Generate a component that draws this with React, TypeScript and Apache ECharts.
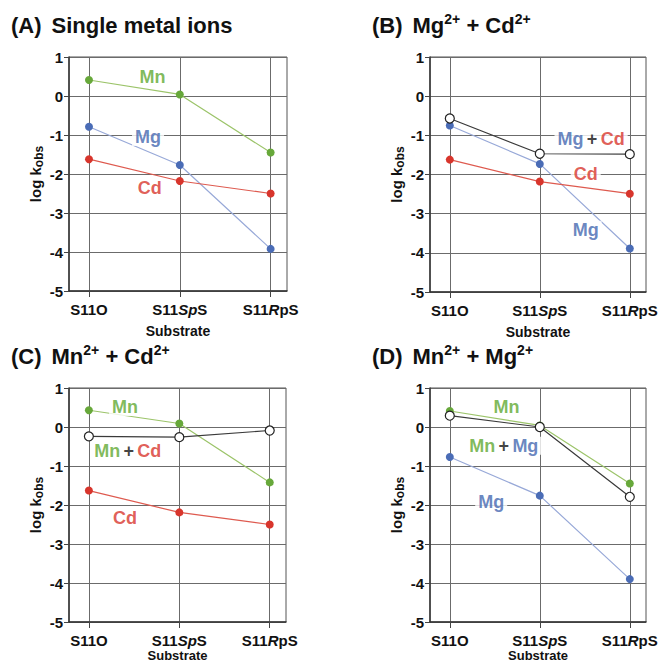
import React, { useEffect, useRef } from "react";
import * as echarts from "echarts";

const categories = ["S11O", "S11SpS", "S11RpS"];
const categoryRich = ["S11O", "S11{i|Sp}S", "S11{i|R}pS"];
const yMin = -5;
const yMax = 1;

// Panel A: single metal ions
const A_Mn = [0.41, 0.04, -1.45];
const A_Mg = [-0.79, -1.77, -3.92];
const A_Cd = [-1.62, -2.18, -2.5];
// Panel B: Mg2+ + Cd2+
const B_MgCd = [-0.57, -1.47, -1.48];
const B_Mg = [-0.75, -1.73, -3.89];
const B_Cd = [-1.62, -2.18, -2.49];
// Panel C: Mn2+ + Cd2+
const C_Mn = [0.43, 0.09, -1.42];
const C_MnCd = [-0.24, -0.26, -0.09];
const C_Cd = [-1.63, -2.19, -2.5];
// Panel D: Mn2+ + Mg2+
const D_Mn = [0.41, 0.04, -1.45];
const D_MnMg = [0.29, 0.0, -1.79];
const D_Mg = [-0.77, -1.76, -3.9];

// In-plot annotation labels: [x, y, rich text]
const A_labels: [number, number, string][] = [
  [0.7, 0.49, "{mn|Mn}"],
  [0.65, -1.05, "{mg|Mg}"],
  [0.67, -2.36, "{cd|Cd}"],
];
const B_labels: [number, number, string][] = [
  [1.57, -1.09, "{mg|Mg} {k|+} {cd|Cd}"],
  [1.51, -1.98, "{cd|Cd}"],
  [1.51, -3.41, "{mg|Mg}"],
];
const C_labels: [number, number, string][] = [
  [0.4, 0.51, "{mn|Mn}"],
  [0.43, -0.62, "{mn|Mn} {k|+} {cd|Cd}"],
  [0.4, -2.33, "{cd|Cd}"],
];
const D_labels: [number, number, string][] = [
  [0.63, 0.51, "{mn|Mn}"],
  [0.6, -0.48, "{mn|Mn} {k|+} {mg|Mg}"],
  [0.46, -1.93, "{mg|Mg}"],
];

const panelTitles = [
  "{p|(A)}  {t|Single metal ions}",
  "{p|(B)}  {t|Mg}{s|2+}{t| + Cd}{s|2+}",
  "{p|(C)}  {t|Mn}{s|2+}{t| + Cd}{s|2+}",
  "{p|(D)}  {t|Mn}{s|2+}{t| + Mg}{s|2+}",
];

const FONT = "'Liberation Sans', Arial, Helvetica, sans-serif";
const colors = {
  mnLine: "#9cc46a",
  mnDot: "#67a83a",
  mgLine: "#98a9d8",
  mgDot: "#4a6cb6",
  cdLine: "#de5a4f",
  cdDot: "#d8352c",
  mix: "#3a3a3a",
};

const grids = [
  { left: 69, top: 57, width: 218, height: 234 },
  { left: 430, top: 57, width: 216, height: 235 },
  { left: 69, top: 388, width: 217, height: 234 },
  { left: 430, top: 388, width: 216, height: 234 },
];
const titlePos = [
  { left: 11, top: 12 },
  { left: 372, top: 12 },
  { left: 11, top: 343 },
  { left: 372, top: 343 },
];

const toPts = (arr: number[]) => arr.map((v, i) => [i, v]);

function lineSeries(idx: number, data: number[], line: string, dot: string, open = false) {
  return {
    type: "line",
    xAxisIndex: idx,
    yAxisIndex: idx,
    data: toPts(data),
    symbol: "circle",
    symbolSize: open ? 9 : 8,
    lineStyle: { color: line, width: 1.2 },
    itemStyle: open
      ? { color: "#ffffff", borderColor: "#222", borderWidth: 1.2 }
      : { color: dot, borderWidth: 0 },
    z: open ? 4 : 3,
  };
}

const labelRich = {
  mn: { color: "#5fa832", fontSize: 18, fontWeight: "bold", fontFamily: FONT },
  mg: { color: "#4467b0", fontSize: 18, fontWeight: "bold", fontFamily: FONT },
  cd: { color: "#d8352c", fontSize: 18, fontWeight: "bold", fontFamily: FONT },
  k: { color: "#111", fontSize: 18, fontWeight: "bold", fontFamily: FONT },
};

function labelSeries(idx: number, labels: [number, number, string][]) {
  return {
    type: "scatter",
    xAxisIndex: idx,
    yAxisIndex: idx,
    symbolSize: 0,
    silent: true,
    z: 5,
    data: labels.map((l) => ({ value: [l[0], l[1]], text: l[2] })),
    label: {
      show: true,
      position: "inside",
      formatter: (p: any) => p.data.text,
      backgroundColor: "#ffffff",
      padding: [0, 3],
      rich: labelRich,
    },
  };
}

export default function App() {
  const ref = useRef<HTMLDivElement>(null);
  useEffect(() => {
    document.body.style.margin = "0";
    const chart = echarts.init(ref.current!, undefined, { renderer: "svg" });
    const xAxes = grids.map((_, i) => ({
      type: "value",
      gridIndex: i,
      min: -0.22,
      max: 2.18,
      name: "Substrate",
      nameLocation: "middle",
      nameGap: i < 2 ? 33 : 24,
      nameTextStyle: { fontSize: i < 2 ? 14 : 13, fontWeight: "bold", color: "#111", fontFamily: FONT },
      axisLine: { show: true, onZero: false, lineStyle: { color: "#333", width: 1.5 } },
      axisTick: { show: true, customValues: [0, 1, 2], length: 6, lineStyle: { color: "#444" } },
      axisLabel: {
        customValues: [0, 1, 2],
        margin: 11,
        formatter: (v: number) => categoryRich[Math.round(v)] ?? categories[Math.round(v)],
        fontSize: 15,
        fontWeight: "bold",
        color: "#111",
        fontFamily: FONT,
        rich: {
          i: { fontStyle: "italic", fontSize: 15, fontWeight: "bold", color: "#111", fontFamily: FONT },
        },
      },
      splitLine: { show: true, lineStyle: { color: "#6b6b6b", width: 1 } },
    }));
    const yAxes = grids.map((_, i) => ({
      type: "value",
      gridIndex: i,
      min: yMin,
      max: yMax,
      interval: 1,
      name: "{n|log k}{s|obs}",
      nameLocation: "middle",
      nameGap: 24,
      nameTextStyle: {
        rich: {
          n: { fontSize: 15, fontWeight: "bold", color: "#111", fontFamily: FONT, lineHeight: 20 },
          s: {
            fontSize: 12,
            fontWeight: "bold",
            color: "#111",
            fontFamily: FONT,
            verticalAlign: "bottom",
            lineHeight: 14,
          },
        },
      },
      axisLine: { show: true, onZero: false, lineStyle: { color: "#333", width: 1.5 } },
      axisTick: { show: true, length: 5, lineStyle: { color: "#444" } },
      axisLabel: { fontSize: 15, fontWeight: "bold", color: "#111", margin: 6, fontFamily: FONT },
      splitLine: { show: true, lineStyle: { color: "#6b6b6b", width: 1 } },
    }));
    const option = {
      animation: false,
      backgroundColor: "#ffffff",
      title: panelTitles.map((t, i) => ({
        text: t,
        left: titlePos[i].left,
        top: titlePos[i].top,
        padding: 0,
        textStyle: {
          fontFamily: FONT,
          rich: {
            p: { fontSize: 22, fontWeight: "bold", color: "#111", fontFamily: FONT, lineHeight: 26 },
            t: { fontSize: 22, fontWeight: "bold", color: "#111", fontFamily: FONT, lineHeight: 26 },
            s: { fontSize: 14, fontWeight: "bold", color: "#111", fontFamily: FONT, verticalAlign: "top", lineHeight: 26 },
          },
        },
      })),
      grid: grids.map((g) => ({
        ...g,
        show: true,
        borderColor: "#555",
        borderWidth: 1,
        backgroundColor: "transparent",
        containLabel: false,
        outerBoundsMode: "none",
      })),
      xAxis: xAxes,
      yAxis: yAxes,
      series: [
        lineSeries(0, A_Mn, colors.mnLine, colors.mnDot),
        lineSeries(0, A_Mg, colors.mgLine, colors.mgDot),
        lineSeries(0, A_Cd, colors.cdLine, colors.cdDot),
        labelSeries(0, A_labels),
        lineSeries(1, B_Mg, colors.mgLine, colors.mgDot),
        lineSeries(1, B_Cd, colors.cdLine, colors.cdDot),
        lineSeries(1, B_MgCd, colors.mix, "#fff", true),
        labelSeries(1, B_labels),
        lineSeries(2, C_Mn, colors.mnLine, colors.mnDot),
        lineSeries(2, C_Cd, colors.cdLine, colors.cdDot),
        lineSeries(2, C_MnCd, colors.mix, "#fff", true),
        labelSeries(2, C_labels),
        lineSeries(3, D_Mn, colors.mnLine, colors.mnDot),
        lineSeries(3, D_Mg, colors.mgLine, colors.mgDot),
        lineSeries(3, D_MnMg, colors.mix, "#fff", true),
        labelSeries(3, D_labels),
      ],
    };
    chart.setOption(option as any);
    return () => chart.dispose();
  }, []);
  return <div ref={ref} style={{ width: 666, height: 663 }} />;
}
